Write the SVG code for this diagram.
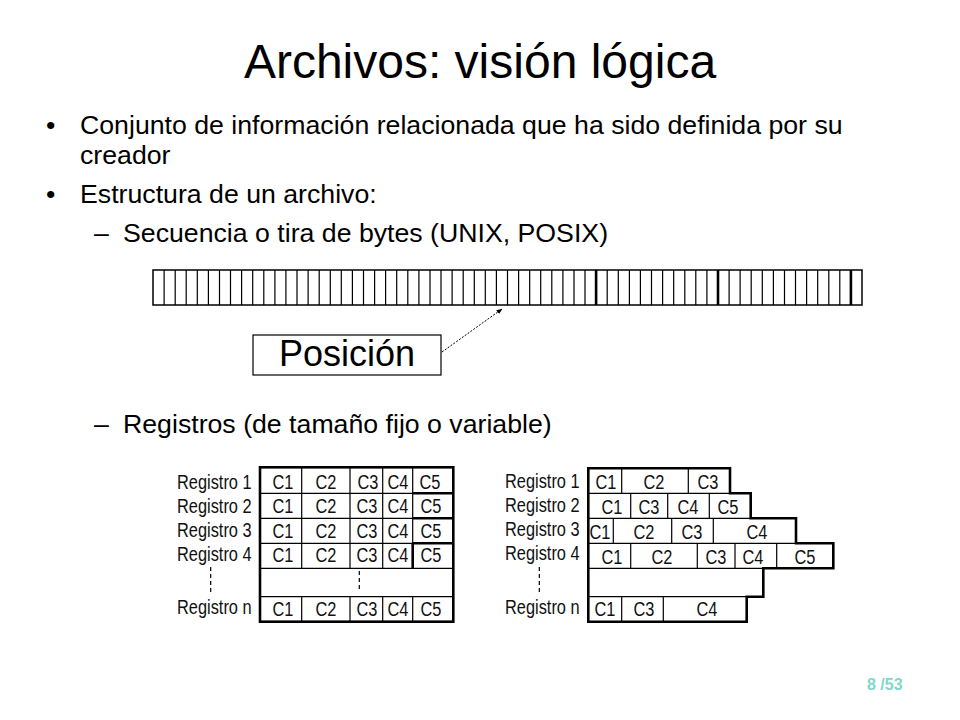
<svg xmlns="http://www.w3.org/2000/svg" width="960" height="720" viewBox="0 0 960 720">
<defs>
<style>
.t{font-family:"Liberation Sans",Arial,sans-serif;fill:#000}
.title{font-size:48px}
.b{font-size:26.7px}
.c{font-size:21px;text-anchor:middle;fill:#111}
.l{font-size:21px;fill:#111}
.thin{fill:none;stroke:#000;stroke-width:1.2}
.thick{fill:none;stroke:#000;stroke-width:2.6}
.dash{fill:none;stroke:#000;stroke-width:1.2;stroke-dasharray:4,3}
.pg{font-family:"Liberation Sans",Arial,sans-serif;font-size:16px;font-weight:bold;fill:#80d8c8}
</style>
<marker id="ah" viewBox="0 0 10 10" refX="9" refY="5" markerWidth="6" markerHeight="6" orient="auto" markerUnits="userSpaceOnUse">
<path d="M0,1 L10,5 L0,9 z" fill="#000"/>
</marker>
</defs>
<rect width="960" height="720" fill="#fff"/>

<g id="title">
<text class="t title" x="480" y="78" text-anchor="middle">Archivos: visión lógica</text>
</g>

<g id="bullets">
<text class="t b" x="46" y="134">•</text>
<text class="t b" x="80" y="134">Conjunto de información relacionada que ha sido definida por su</text>
<text class="t b" x="80" y="164">creador</text>
<text class="t b" x="46" y="203">•</text>
<text class="t b" x="80" y="203">Estructura de un archivo:</text>
<text class="t b" x="94" y="242">–</text>
<text class="t b" x="123" y="242">Secuencia o tira de bytes (UNIX, POSIX)</text>
<text class="t b" x="94" y="433">–</text>
<text class="t b" x="123" y="433">Registros (de tamaño fijo o variable)</text>
</g>

<g id="byte-strip">
<rect x="153" y="270" width="709" height="35" fill="#fff" stroke="#000" stroke-width="1.5"/>
<path class="thin" d="M164.1 270V305M175.2 270V305M186.2 270V305M197.3 270V305M208.4 270V305M219.5 270V305M230.5 270V305M241.6 270V305M252.7 270V305M263.8 270V305M274.9 270V305M285.9 270V305M297 270V305M308.1 270V305M319.2 270V305M330.3 270V305M341.3 270V305M352.4 270V305M363.5 270V305M374.6 270V305M385.6 270V305M396.7 270V305M407.8 270V305M418.9 270V305M430 270V305M441 270V305M452.1 270V305M463.2 270V305M474.3 270V305M485.3 270V305M496.4 270V305M507.5 270V305M518.6 270V305M529.7 270V305M540.7 270V305M551.8 270V305M562.9 270V305M574 270V305M585 270V305M607.2 270V305M618.3 270V305M629.4 270V305M640.4 270V305M651.5 270V305M662.6 270V305M673.7 270V305M684.8 270V305M695.8 270V305M706.9 270V305M729.1 270V305M740.1 270V305M751.2 270V305M762.3 270V305M773.4 270V305M784.5 270V305M795.5 270V305M806.6 270V305M817.7 270V305M828.8 270V305M839.8 270V305"/>
<path class="thick" d="M596.1 270V305M718 270V305M850.9 270V305"/>
</g>

<g id="posicion">
<rect x="253" y="335" width="188" height="40" fill="#fff" stroke="#000" stroke-width="1.2"/>
<text class="t" x="347" y="366" font-size="36" text-anchor="middle">Posición</text>
</g>

<g id="connectors">
<line x1="442" y1="352" x2="502" y2="309" stroke="#000" stroke-width="1" stroke-dasharray="2,1.5" marker-end="url(#ah)"/>
</g>

<g id="fixed-records">
<g class="t l">
<text transform="translate(177,488.5) scale(.78,1)">Registro 1</text>
<text transform="translate(177,512.5) scale(.78,1)">Registro 2</text>
<text transform="translate(177,536.5) scale(.78,1)">Registro 3</text>
<text transform="translate(177,560.5) scale(.78,1)">Registro 4</text>
<text transform="translate(177,614) scale(.78,1)">Registro n</text>
</g>
<line class="dash" x1="210.7" y1="567" x2="210.7" y2="595"/>
<rect x="260" y="467.3" width="193.3" height="154.4" fill="#fff"/>
<path class="thin" d="M260 493.3H453.3M260 518.3H453.3M260 543.3H453.3M260 568.3H453.3M260 596.7H453.3M301.7 467.3V568.3M350 467.3V568.3M382.7 467.3V568.3M412.7 467.3V543.3M301.7 596.7V621.7M350 596.7V621.7M382.7 596.7V621.7M412.7 596.7V621.7"/>
<path class="thick" d="M412.7 493.3H453.3M412.7 518.3H453.3M412.7 543.3H453.3M412.7 543.3V568.3"/>
<rect class="thick" x="260" y="467.3" width="193.3" height="154.4"/>
<line class="dash" x1="359.3" y1="571" x2="359.3" y2="592"/>
<g class="t c">
<text transform="translate(283,488.5) scale(.78,1)">C1</text>
<text transform="translate(326,488.5) scale(.78,1)">C2</text>
<text transform="translate(368,488.5) scale(.78,1)">C3</text>
<text transform="translate(398,488.5) scale(.78,1)">C4</text>
<text transform="translate(430,488.5) scale(.78,1)">C5</text>
<text transform="translate(283,513) scale(.78,1)">C1</text>
<text transform="translate(326,513) scale(.78,1)">C2</text>
<text transform="translate(367,513) scale(.78,1)">C3</text>
<text transform="translate(398,513) scale(.78,1)">C4</text>
<text transform="translate(431,513) scale(.78,1)">C5</text>
<text transform="translate(283,537.5) scale(.78,1)">C1</text>
<text transform="translate(326,537.5) scale(.78,1)">C2</text>
<text transform="translate(367,537.5) scale(.78,1)">C3</text>
<text transform="translate(398,537.5) scale(.78,1)">C4</text>
<text transform="translate(431,537.5) scale(.78,1)">C5</text>
<text transform="translate(283,562) scale(.78,1)">C1</text>
<text transform="translate(326,562) scale(.78,1)">C2</text>
<text transform="translate(367,562) scale(.78,1)">C3</text>
<text transform="translate(398,562) scale(.78,1)">C4</text>
<text transform="translate(431,562) scale(.78,1)">C5</text>
<text transform="translate(283,616) scale(.78,1)">C1</text>
<text transform="translate(326,616) scale(.78,1)">C2</text>
<text transform="translate(367,616) scale(.78,1)">C3</text>
<text transform="translate(398,616) scale(.78,1)">C4</text>
<text transform="translate(431,616) scale(.78,1)">C5</text>
</g>
</g>

<g id="variable-records">
<g class="t l">
<text transform="translate(505,487.5) scale(.78,1)">Registro 1</text>
<text transform="translate(505,512) scale(.78,1)">Registro 2</text>
<text transform="translate(505,536) scale(.78,1)">Registro 3</text>
<text transform="translate(505,560) scale(.78,1)">Registro 4</text>
<text transform="translate(505,614) scale(.78,1)">Registro n</text>
</g>
<line class="dash" x1="539.3" y1="567" x2="539.3" y2="595"/>
<path d="M588.3 468.3H730V493.3H750.7V518.3H796V543.3H833.3V568.3H763.3V596.7H746.7V621.7H588.3Z" fill="#fff"/>
<path class="thin" d="M588.3 493.3H730M588.3 518.3H750.7M588.3 543.3H796M588.3 568.3H763.3M588.3 596.7H746.7M621.7 468.3V493.3M688.3 468.3V493.3M630.7 493.3V518.3M667.7 493.3V518.3M709.3 493.3V518.3M613.3 518.3V543.3M671.7 518.3V543.3M713.3 518.3V543.3M630.7 543.3V568.3M697.3 543.3V568.3M735 543.3V568.3M776.7 543.3V568.3M621.7 596.7V621.7M663.3 596.7V621.7"/>
<path class="thick" d="M588.3 468.3H730V493.3H750.7V518.3H796V543.3H833.3V568.3H763.3V596.7H746.7V621.7H588.3Z"/>
<g class="t c">
<text transform="translate(606,488.5) scale(.78,1)">C1</text>
<text transform="translate(654,488.5) scale(.78,1)">C2</text>
<text transform="translate(708,488.5) scale(.78,1)">C3</text>
<text transform="translate(612,513.5) scale(.78,1)">C1</text>
<text transform="translate(649,513.5) scale(.78,1)">C3</text>
<text transform="translate(688,513.5) scale(.78,1)">C4</text>
<text transform="translate(728,513.5) scale(.78,1)">C5</text>
<text transform="translate(600,538.5) scale(.78,1)">C1</text>
<text transform="translate(644,538.5) scale(.78,1)">C2</text>
<text transform="translate(692,538.5) scale(.78,1)">C3</text>
<text transform="translate(757,538.5) scale(.78,1)">C4</text>
<text transform="translate(612,563.5) scale(.78,1)">C1</text>
<text transform="translate(662,563.5) scale(.78,1)">C2</text>
<text transform="translate(716,563.5) scale(.78,1)">C3</text>
<text transform="translate(753,563.5) scale(.78,1)">C4</text>
<text transform="translate(805,563.5) scale(.78,1)">C5</text>
<text transform="translate(605,616) scale(.78,1)">C1</text>
<text transform="translate(644,616) scale(.78,1)">C3</text>
<text transform="translate(707,616) scale(.78,1)">C4</text>
</g>
</g>

<g id="page-number">
<text class="pg" x="867" y="690">8 /53</text>
</g>
</svg>
